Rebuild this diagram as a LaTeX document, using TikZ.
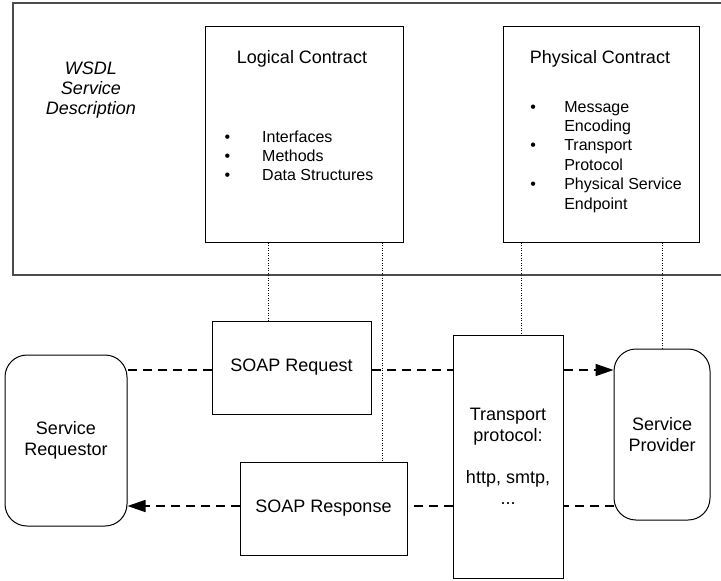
\documentclass[tikz,border=0pt]{standalone}
\usepackage{fontspec}
\setmainfont{Liberation Sans}
\usetikzlibrary{arrows.meta}

\begin{document}
\begin{tikzpicture}[x=0.5pt,y=-0.5pt,every node/.style={inner sep=1pt,font=\fontsize{9}{10.5}\selectfont}]
\tikzstyle{box}=[draw,line width=0.5pt,fill=white]
\tikzstyle{actor}=[box,rounded corners=11pt,align=center]
\tikzstyle{msg}=[draw,line width=0.8pt,dash pattern=on 4.5pt off 3pt]
\tikzstyle{link}=[draw,line width=0.5pt,dash pattern=on 0.5pt off 0.75pt]
\tikzstyle{lst}=[anchor=base west,inner sep=0pt,font=\fontsize{8}{9.7}\selectfont]
\useasboundingbox (0,0) rectangle (721,580);
\clip (0,0) rectangle (721,580);

\node[box,draw=black!70,line width=0.6pt,minimum width=363.5pt,minimum height=136pt](wsdl) at (376.5,139){};
\node[anchor=base,font=\fontsize{9}{10}\selectfont\itshape](wsdlt) at (91,74){\begin{tabular}[t]{@{}c@{}}WSDL\\Service\\Description\end{tabular}};

\node[box,minimum width=99pt,minimum height=108pt](lc) at (304,134){};
\node[anchor=base](lct) at (302,63){Logical Contract};
\node[lst](lcl) at (224.2,142){\begin{tabular}[t]{@{}l@{\hspace{16pt}}l@{}}\textbullet&Interfaces\\\textbullet&Methods\\\textbullet&Data Structures\end{tabular}};

\node[box,minimum width=98pt,minimum height=108pt](pc) at (601,134){};
\node[anchor=base](pct) at (600,63){Physical Contract};
\node[lst](pcl) at (529.9,112){\begin{tabular}[t]{@{}l@{\hspace{14.2pt}}l@{}}\textbullet&Message\\&Encoding\\\textbullet&Transport\\&Protocol\\\textbullet&Physical Service\\&Endpoint\end{tabular}};

\node[actor,minimum width=61pt,minimum height=85.5pt](sreq) at (66,440.5){Service\\Requestor};
\node[box,minimum width=79.5pt,minimum height=46.5pt](req) at (291.5,367.5){SOAP Request};
\node[box,minimum width=83.5pt,minimum height=46.5pt](resp) at (323.5,508.5){SOAP Response};
\node[box,align=center,minimum width=55pt,minimum height=121.5pt](tp) at (508,456.5){Transport\\protocol:\\[10.5pt]http, smtp,\\...};
\node[actor,minimum width=48pt,minimum height=85.5pt](sprov) at (662,434.5){Service\\Provider};

\coordinate (rq) at (0,370);
\coordinate (rs) at (0,506);
\coordinate (d1) at (268,0);
\coordinate (d2) at (382,0);
\coordinate (d3) at (521,0);

\path[link](lc.south-|d1)--(req.north-|d1);
\path[link](lc.south-|d2)--(resp.north-|d2);
\path[link](pc.south-|d3)--(tp.north-|d3);
\path[link](pc.south-|sprov.north)--(sprov.north);

\path[msg](sreq.east|-rq)--(req.west|-rq);
\path[msg](req.east|-rq)--(tp.west|-rq);
\path[msg,-{Triangle[length=9pt,width=6pt]}](tp.east|-rq)--(sprov.west|-rq);

\path[msg](sprov.west|-rs)--(tp.east|-rs);
\path[msg](tp.west|-rs)--(resp.east|-rs);
\path[msg,-{Triangle[length=9pt,width=6pt]}](resp.west|-rs)--(sreq.east|-rs);
\end{tikzpicture}
\end{document}
